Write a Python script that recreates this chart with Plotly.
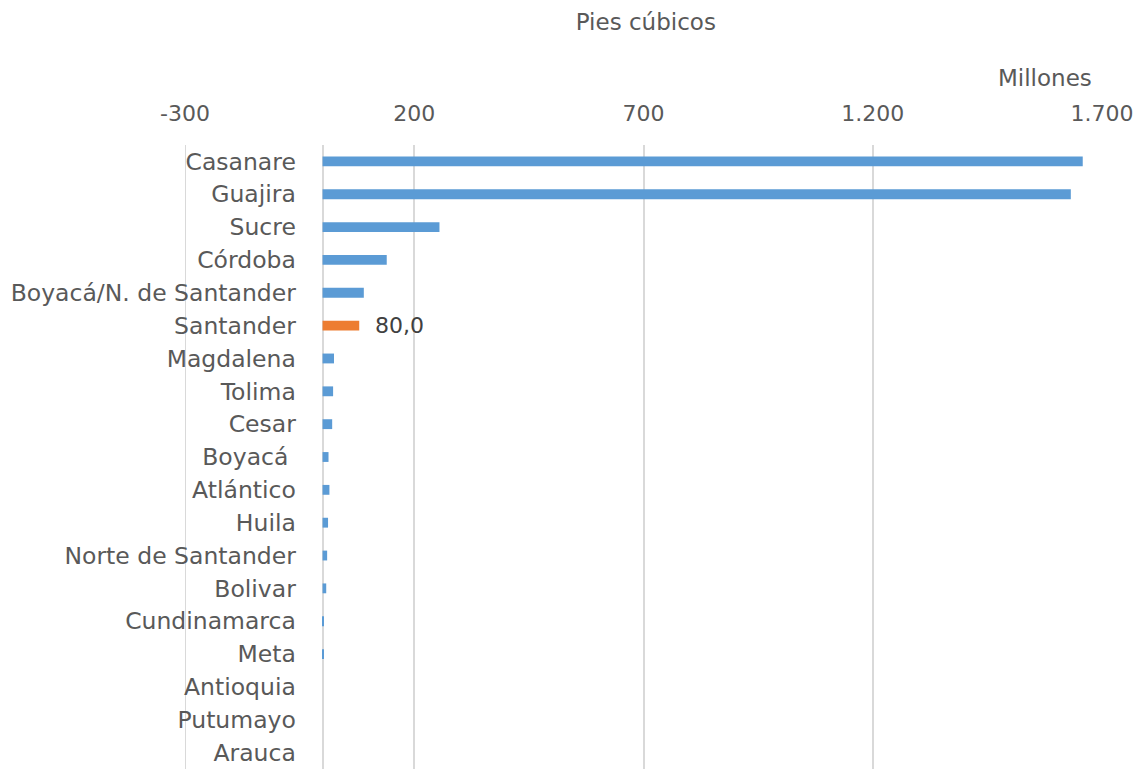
import plotly.graph_objects as go

categories = ["Casanare", "Guajira", "Sucre", "Córdoba", "Boyacá/N. de Santander",
              "Santander", "Magdalena", "Tolima", "Cesar", "Boyacá\u00a0", "Atlántico",
              "Huila", "Norte de Santander", "Bolivar", "Cundinamarca", "Meta",
              "Antioquia", "Putumayo", "Arauca"]
values = [1658, 1632, 255, 140, 90, 80.0, 25, 23, 21, 13, 15, 12, 10, 8, 3, 1, 0, 0, 0]
highlight = "Santander"
tick_vals = [-300, 200, 700, 1200, 1700]
tick_text = ["-300", "200", "700", "1.200", "1.700"]

FONT = "DejaVu Sans"
colors = ["#ed7d31" if c == highlight else "#5b9bd5" for c in categories]

fig = go.Figure()
fig.add_trace(go.Bar(
    y=categories, x=values, orientation="h", width=0.3,
    marker=dict(color=colors, line=dict(width=0)),
    hoverinfo="x+y",
))

hi = categories.index(highlight)
fig.add_annotation(x=values[hi], y=categories[hi], xref="x", yref="y",
                   text=f"{values[hi]:.1f}".replace(".", ","), showarrow=False,
                   xanchor="left", xshift=14, font=dict(family=FONT, size=22, color="#404040"))
fig.add_annotation(x=0.938, y=1.107, xref="paper", yref="paper", text="Millones",
                   showarrow=False, xanchor="center", yanchor="middle",
                   font=dict(family=FONT, size=23, color="#595959"))

# left-edge gridline (Plotly skips the gridline at the plot's left edge)
fig.add_shape(type="line", x0=tick_vals[0], x1=tick_vals[0], y0=0, y1=1,
              xref="x", yref="paper", layer="below",
              line=dict(color="#d9d9d9", width=2))

fig.update_layout(
    width=1138, height=769,
    margin=dict(l=185, r=36, t=145, b=0),
    plot_bgcolor="white", paper_bgcolor="white",
    showlegend=False,
    title=dict(text="Pies cúbicos", x=0.5675, xanchor="center", y=0.971, yanchor="middle",
               font=dict(family=FONT, size=23, color="#595959")),
    xaxis=dict(side="top", range=[-300, 1700], tickvals=tick_vals, ticktext=tick_text,
               showgrid=True, gridcolor="#d9d9d9", gridwidth=2,
               zeroline=True, zerolinecolor="#d9d9d9", zerolinewidth=2,
               showline=False, ticks="outside", ticklen=14, tickcolor="rgba(0,0,0,0)",
               automargin=False,
               tickfont=dict(family=FONT, size=22, color="#595959"), fixedrange=True),
    yaxis=dict(categoryorder="array", categoryarray=categories, autorange="reversed",
               anchor="free", position=0.150, showline=False,
               showgrid=False, ticks="outside", ticklen=22,
               tickcolor="rgba(0,0,0,0)", automargin=False,
               tickfont=dict(family=FONT, size=23.5, color="#595959")),
)

fig.write_html("out.html", config={"displayModeBar": False},
               post_script="document.body.style.margin='0';")
